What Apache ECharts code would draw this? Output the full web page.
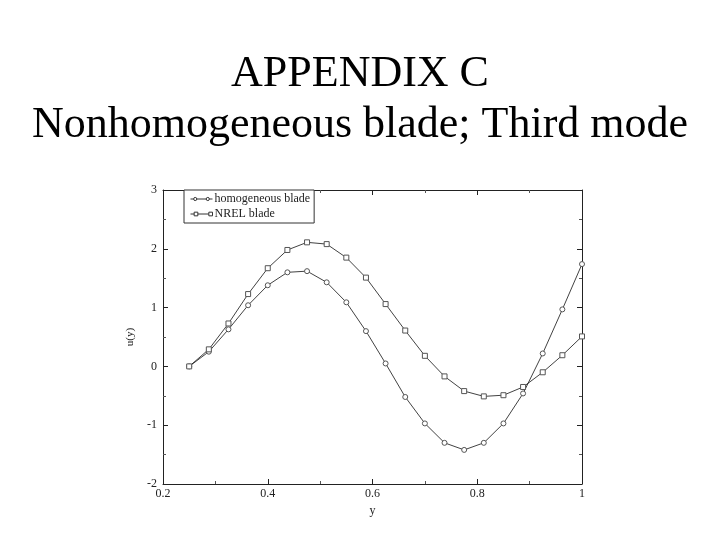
<!DOCTYPE html>
<html>
<head>
<meta charset="utf-8">
<script src="https://cdn.jsdelivr.net/npm/echarts@6/dist/echarts.min.js"></script>
<style>
  html, body { margin: 0; padding: 0; background: #fff; }
  #chart { width: 720px; height: 540px; }
</style>
</head>
<body>
<div id="chart"></div>
<script>
// x positions along the blade
var yPos = [0.25, 0.2875, 0.325, 0.3625, 0.4, 0.4375, 0.475, 0.5125, 0.55, 0.5875,
            0.625, 0.6625, 0.7, 0.7375, 0.775, 0.8125, 0.85, 0.8875, 0.925, 0.9625, 1.0];
// homogeneous blade (circles)
var homogeneous = [0, 0.25, 0.63, 1.04, 1.38, 1.60, 1.62, 1.43, 1.09, 0.60,
                   0.05, -0.52, -0.97, -1.30, -1.42, -1.30, -0.97, -0.46, 0.22, 0.97, 1.74];
// NREL blade (squares)
var nrel = [0, 0.29, 0.73, 1.23, 1.67, 1.98, 2.11, 2.08, 1.85, 1.51,
            1.06, 0.61, 0.18, -0.17, -0.42, -0.51, -0.49, -0.35, -0.10, 0.19, 0.51];

var titleLines = ['APPENDIX C', 'Nonhomogeneous blade; Third mode'];

function pairs(xs, ys) {
    var out = [];
    for (var i = 0; i < xs.length; i++) out.push([xs[i], ys[i]]);
    return out;
}

var serif = '"Liberation Serif", "DejaVu Serif", serif';
var circIcon = 'path://M0,5 L4,5 M24,5 L28,5 M8,5 L20,5 M4,5 a2,2 0 1,0 4,0 a2,2 0 1,0 -4,0 M20,5 a2,2 0 1,0 4,0 a2,2 0 1,0 -4,0';
var sqIcon = 'path://M0,5 L4,5 M8,5 L20,5 M4,3 L8,3 L8,7 L4,7 Z M20,3 L24,3 L24,7 L20,7 Z';

var tickStyle = { show: true, inside: true, length: 5, lineStyle: { color: '#222', width: 1 } };
var minorStyle = { show: true, splitNumber: 2, length: 3, lineStyle: { color: '#555', width: 1 } };
var frameLine = { show: true, onZero: false, lineStyle: { color: '#222', width: 1 } };

var option = {
    backgroundColor: '#fff',
    animation: false,
    title: {
        text: titleLines.join('\n'),
        left: 'center',
        top: 44,
        textStyle: { fontFamily: serif, fontSize: 44, fontWeight: 'normal', color: '#000', lineHeight: 51 }
    },
    legend: {
        orient: 'vertical',
        left: 184,
        top: 190,
        itemWidth: 22,
        itemHeight: 8,
        itemGap: 3,
        padding: [3, 4, 3, 4],
        borderColor: '#333',
        borderWidth: 1,
        backgroundColor: '#fff',
        textStyle: { fontFamily: serif, fontSize: 12, color: '#222', padding: [0, 0, 0, -3] },
        itemStyle: { color: 'none', borderColor: '#333', borderWidth: 1 },
        lineStyle: { width: 0 },
        data: [
            { name: 'homogeneous blade', icon: circIcon },
            { name: 'NREL blade', icon: sqIcon }
        ]
    },
    grid: { left: 163, top: 190, width: 419, height: 294 },
    xAxis: [{
        type: 'value', min: 0.2, max: 1, interval: 0.2,
        name: 'y', nameLocation: 'middle', nameGap: 16,
        nameTextStyle: { fontFamily: serif, fontSize: 12, color: '#222' },
        axisLine: frameLine,
        axisTick: tickStyle, minorTick: minorStyle,
        axisLabel: { fontFamily: serif, fontSize: 12, color: '#222', margin: 4 },
        splitLine: { show: false }
    }, {
        type: 'value', min: 0.2, max: 1, interval: 0.2, position: 'top',
        axisLine: frameLine,
        axisTick: tickStyle, minorTick: minorStyle,
        axisLabel: { show: false }, splitLine: { show: false }
    }],
    yAxis: [{
        type: 'value', min: -2, max: 3, interval: 1,
        name: 'u(y)', nameLocation: 'middle', nameGap: 18, nameRotate: 90,
        nameTextStyle: { fontFamily: serif, fontSize: 11, color: '#222' },
        axisLine: frameLine,
        axisTick: tickStyle, minorTick: minorStyle,
        axisLabel: { fontFamily: serif, fontSize: 12, color: '#222', margin: 6 },
        splitLine: { show: false }
    }, {
        type: 'value', min: -2, max: 3, interval: 1, position: 'right',
        axisLine: frameLine,
        axisTick: tickStyle, minorTick: minorStyle,
        axisLabel: { show: false }, splitLine: { show: false }
    }],
    series: [{
        name: 'homogeneous blade',
        type: 'line',
        data: pairs(yPos, homogeneous),
        symbol: 'circle',
        symbolSize: 5,
        lineStyle: { color: '#111', width: 0.8 },
        itemStyle: { color: '#fff', borderColor: '#555', borderWidth: 1 }
    }, {
        name: 'NREL blade',
        type: 'line',
        data: pairs(yPos, nrel),
        symbol: 'rect',
        symbolSize: 5,
        lineStyle: { color: '#111', width: 0.8 },
        itemStyle: { color: '#fff', borderColor: '#555', borderWidth: 1 }
    }]
};

var myChart = echarts.init(document.getElementById('chart'));
myChart.setOption(option, true);
</script>
</body>
</html>
